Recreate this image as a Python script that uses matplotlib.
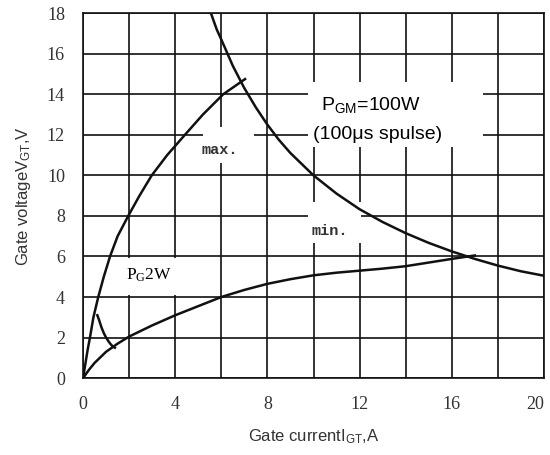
import matplotlib
matplotlib.use('Agg')
import matplotlib.pyplot as plt
from matplotlib.patches import Rectangle

plt.rcParams['mathtext.default'] = 'regular'

# max gate characteristic (upper boundary)
max_i = [0.0, 0.1, 0.2, 0.3, 0.45, 0.66, 0.9, 1.17, 1.5, 1.96, 2.45, 2.98, 3.65, 4.42, 5.2, 6.08, 7.03]
max_v = [0.0, 0.7, 1.4, 2.0, 3.0, 4.0, 5.0, 6.0, 7.0, 8.0, 9.0, 10.0, 11.0, 12.0, 13.0, 14.0, 14.75]

# min gate characteristic (lower boundary)
min_i = [0.0, 0.25, 0.5, 1.0, 1.5, 2.0, 3.0, 4.0, 5.0, 6.0, 7.0, 8.0, 9.0, 10.0,
         11.0, 12.0, 13.0, 14.0, 15.0, 16.0, 17.0]
min_v = [0.0, 0.4, 0.75, 1.3, 1.7, 2.05, 2.6, 3.1, 3.55, 4.0, 4.35, 4.65, 4.88, 5.07,
         5.2, 5.3, 5.4, 5.52, 5.7, 5.88, 6.05]

# peak gate power 100W curve
pgm_i = [5.55, 5.8, 6.0, 6.5, 7.0, 7.5, 8.0, 8.5, 9.0, 10.0, 11.0, 12.0, 13.0, 14.0,
         15.0, 16.0, 17.0, 18.0, 19.0, 20.0]
pgm_v = [18.0, 17.2, 16.7, 15.4, 14.3, 13.35, 12.5, 11.75, 11.1, 10.0, 9.1, 8.33, 7.7, 7.15,
         6.67, 6.25, 5.88, 5.55, 5.27, 5.05]

# average gate power 2W curve
pg_i = [0.62, 0.7, 0.8, 0.9, 1.0, 1.1, 1.2, 1.3, 1.38]
pg_v = [3.1, 2.85, 2.5, 2.22, 2.0, 1.82, 1.67, 1.55, 1.5]

x_ticks = [0, 4, 8, 12, 16, 20]
y_ticks = [0, 2, 4, 6, 8, 10, 12, 14, 16, 18]

fig = plt.figure(figsize=(5.5, 4.55), dpi=100)
ax = fig.add_axes([0.151, 0.169, 0.838, 0.802])

for xs, ys in [(max_i, max_v), (min_i, min_v), (pgm_i, pgm_v), (pg_i, pg_v)]:
    ax.plot(xs, ys, color='#111111', linewidth=1.8, zorder=3, solid_joinstyle='round')

ax.set_xlim(0, 20)
ax.set_ylim(0, 18)
ax.set_xticks(x_ticks)
ax.set_xticks([2, 6, 10, 14, 18], minor=True)
ax.set_yticks(y_ticks)
ax.set_axisbelow(True)
ax.grid(True, which='both', color='#111111', linewidth=1.2)
ax.tick_params(which='both', length=0)
ax.tick_params(axis='x', pad=13)
ax.tick_params(axis='y', pad=13)
for lab in ax.get_xticklabels() + ax.get_yticklabels():
    lab.set_fontfamily('Liberation Serif')
    lab.set_fontsize(13)
    lab.set_color('#333333')
ax.get_xticklabels()[-1].set_horizontalalignment('right')
for sp in ax.spines.values():
    sp.set_color('#111111')
    sp.set_linewidth(1.2)

# white masks behind the labels
for (x0, y0, w, h) in [(5.2, 10.6, 2.2, 1.8), (9.75, 11.4, 7.6, 3.2),
                       (9.75, 6.66, 2.3, 2.02), (1.3, 4.08, 3.6, 1.85)]:
    ax.add_patch(Rectangle((x0, y0), w, h, facecolor='white', edgecolor='none', zorder=1))

mono = dict(family='Liberation Mono', fontsize=11, fontweight='bold', ha='center', va='center',
            zorder=4, color='#333333')
ax.text(5.95, 11.25, 'max.', **mono)
ax.text(10.7, 7.27, 'min.', **mono)
ax.text(2.85, 5.05, 'P$_{G}$2W', family='Liberation Serif', fontsize=12.5, ha='center', va='center', zorder=4)
ax.text(12.5, 13.45, 'P$_{GM}$=100W', family='Liberation Sans', fontsize=14, ha='center', va='center', zorder=4)
ax.text(12.8, 12.0, '(100μs spulse)', family='Liberation Sans', fontsize=14, ha='center', va='center', zorder=4)

ax.set_xlabel('Gate currentI$_{GT}$,A', family='Liberation Sans', fontsize=12, color='#333333', labelpad=10)
ax.set_ylabel('Gate voltageV$_{GT}$,V', family='Liberation Sans', fontsize=12, color='#333333', labelpad=10)

fig.savefig('out.png', dpi=100)
